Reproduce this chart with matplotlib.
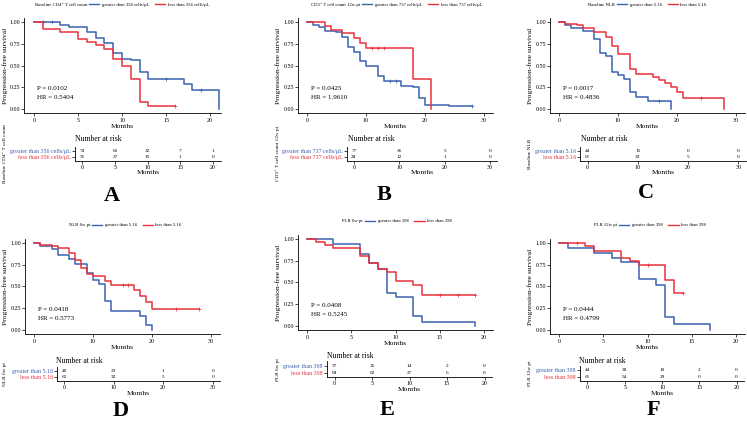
import numpy as np
import matplotlib.pyplot as plt
from matplotlib.lines import Line2D

W, H = 747, 421
BLUE = '#3A62B0'
RED = '#E8323C'
plt.rcParams['font.family'] = ['Liberation Serif', 'DejaVu Serif']

# ---- data (time in months, survival prob) ----
# A: baseline CD4+ T cell count
a_hi_t = [0, 3, 4, 6, 7, 8, 9, 10, 11, 12, 13, 17, 18, 21]
a_hi_s = [1, .97, .94, .88, .82, .76, .64, .58, .56, .42, .35, .29, .22, 0]
a_hi_cens = [1, 2, 15, 19]
a_lo_t = [0, 1, 3, 5, 6, 7, 8, 9, 10, 11, 12, 13, 16]
a_lo_s = [1, .92, .88, .80, .77, .73, .69, .58, .49, .35, .08, .04, .04]
a_lo_cens = [16]
a_risk_hi = [74, 66, 32, 7, 1]
a_risk_lo = [31, 27, 15, 1, 0]

# B: CD3+ T cell count 12w pt
b_hi_t = [0, 1, 2, 3, 5, 6, 7, 8, 9, 10, 12, 13, 16, 18, 19, 20, 24, 28]
b_hi_s = [1, .96, .94, .90, .88, .83, .71, .66, .55, .49, .38, .32, .27, .25, .13, .05, .03, .03]
b_hi_cens = [14, 15, 28]
b_lo_t = [0, 3, 4, 6, 8, 9, 10, 18, 21]
b_lo_s = [1, .95, .91, .87, .82, .76, .70, .35, 0]
b_lo_cens = [11, 12, 13]
b_risk_hi = [77, 36, 5, 0]
b_risk_lo = [28, 12, 1, 0]

# C: baseline NLR
c_hi_t = [0, 1, 2, 4, 6, 7, 8, 9, 10, 11, 12, 13, 15, 19]
c_hi_s = [1, .97, .93, .90, .80, .64, .61, .43, .39, .35, .19, .14, .09, 0]
c_hi_cens = [17]
c_lo_t = [0, 1, 3, 4, 6, 8, 9, 10, 12, 13, 16, 17, 18, 19, 20, 21, 28]
c_lo_s = [1, .98, .96, .93, .88, .83, .72, .63, .46, .40, .37, .33, .30, .25, .20, .13, 0]
c_lo_cens = [24]
c_risk_hi = [44, 15, 0, 0]
c_risk_lo = [61, 33, 5, 0]

# D: NLR 6w pt
d_hi_t = [0, 1, 3, 4, 6, 7, 9, 10, 11, 12, 13, 18, 19, 20]
d_hi_s = [1, .97, .93, .86, .82, .76, .65, .57, .53, .33, .22, .16, .06, 0]
d_hi_cens = []
d_lo_t = [0, 1, 3, 4, 6, 7, 8, 9, 10, 12, 13, 17, 18, 19, 20, 28]
d_lo_s = [1, .98, .96, .94, .89, .80, .71, .64, .62, .56, .52, .46, .39, .32, .24, .24]
d_lo_cens = [15, 16, 24, 28]
d_risk_hi = [40, 23, 1, 0]
d_risk_lo = [65, 32, 5, 0]

# E: PLR 6w pt
e_hi_t = [0, 3, 6, 7, 8, 9, 10, 12, 13, 19]
e_hi_s = [1, .94, .83, .72, .66, .38, .33, .11, .05, 0]
e_hi_cens = []
e_lo_t = [0, 1, 2, 3, 6, 7, 8, 9, 10, 12, 13, 19]
e_lo_s = [1, .97, .93, .90, .81, .72, .66, .62, .52, .47, .36, .36]
e_lo_cens = [15, 17, 19]
e_risk_hi = [37, 35, 14, 2, 0]
e_risk_lo = [68, 62, 27, 6, 0]

# F: PLR 12w pt
f_hi_t = [0, 1, 4, 6, 7, 9, 11, 12, 13, 17]
f_hi_s = [1, .94, .89, .83, .78, .59, .52, .15, .07, 0]
f_hi_cens = []
f_lo_t = [0, 3, 4, 7, 8, 9, 12, 13, 14]
f_lo_s = [1, .96, .91, .83, .79, .75, .58, .43, .43]
f_lo_cens = [2, 10, 14]
f_risk_hi = [44, 39, 19, 2, 0]
f_risk_lo = [61, 54, 29, 0, 0]

titles = ['Baseline CD4\u207a T cell count', 'CD3\u207a T cell count 12w pt', 'Baseline NLR',
          'NLR 6w pt', 'PLR 6w pt', 'PLR 12w pt']
hi_labels = ['greater than 356 cells/\u03bcL', 'greater than 737 cells/\u03bcL', 'greater than 5.16',
             'greater than 5.16', 'greater than 398', 'greater than 398']
lo_labels = ['less than 356 cells/\u03bcL', 'less than 737 cells/\u03bcL', 'less than 5.16',
             'less than 5.16', 'less than 398', 'less than 398']
p_values = ['0.0102', '0.0425', '0.0017', '0.0418', '0.0408', '0.0444']
hr_values = ['0.5404', '1.9610', '0.4836', '0.5773', '0.5245', '0.4799']
letters = ['A', 'B', 'C', 'D', 'E', 'F']

curves = [
    (a_hi_t, a_hi_s, a_hi_cens, a_lo_t, a_lo_s, a_lo_cens, a_risk_hi, a_risk_lo),
    (b_hi_t, b_hi_s, b_hi_cens, b_lo_t, b_lo_s, b_lo_cens, b_risk_hi, b_risk_lo),
    (c_hi_t, c_hi_s, c_hi_cens, c_lo_t, c_lo_s, c_lo_cens, c_risk_hi, c_risk_lo),
    (d_hi_t, d_hi_s, d_hi_cens, d_lo_t, d_lo_s, d_lo_cens, d_risk_hi, d_risk_lo),
    (e_hi_t, e_hi_s, e_hi_cens, e_lo_t, e_lo_s, e_lo_cens, e_risk_hi, e_risk_lo),
    (f_hi_t, f_hi_s, f_hi_cens, f_lo_t, f_lo_s, f_lo_cens, f_risk_hi, f_risk_lo),
]

# ---- layout in pixels ----
# main axes (left, top, right, bottom), xlim, tick step
main_box = [(24, 17.6, 221, 113.4), (298, 17.6, 493, 113.4), (550, 17.6, 745, 113.4),
            (25, 238.6, 220, 334.4), (298, 234.6, 493, 330.4), (550, 238.6, 745, 334.4)]
xlims = [(-1.14, 21.25), (-1.5, 31.5), (-1.5, 31.5), (-1.5, 31.5), (-1, 21), (-1, 21)]
tick_step = [5, 10, 10, 10, 5, 5]
xmax_tick = [20, 30, 30, 30, 20, 20]
table_box = [(75, 147, 221, 160.5), (347, 147, 497, 160.5), (580, 147, 746, 160.5),
             (57, 366.8, 220, 381.2), (327, 361, 492, 377.3), (580, 366, 744, 381.2)]
nar_pos = [(75, 139), (348, 139), (581, 139), (56, 360.7), (327, 356), (579, 360.7)]
legend_y = [5, 5, 5, 225, 221, 225]
legend_title_right = [87, 360, 615, 90, 363, 617]
ylabel_x = [5, 278, 530, 5, 278, 530]
letter_pos = [(112, 196), (384, 195), (646, 193), (121, 411), (387, 410), (653, 410)]

fig = plt.figure(figsize=(W / 100, H / 100), dpi=100)


def px_axes(box):
    l, t, r, b = box
    return fig.add_axes([l / W, 1 - b / H, (r - l) / W, (b - t) / H])


def surv_at(t, s, x):
    i = np.searchsorted(t, x, side='right') - 1
    return s[i]


def style(ax):
    for side in ['top', 'right']:
        ax.spines[side].set_visible(False)
    for side in ['left', 'bottom']:
        ax.spines[side].set_linewidth(0.6)
    ax.tick_params(length=2, width=0.5, labelsize=4.3, pad=1)


for k in range(6):
    hi_t, hi_s, hi_c, lo_t, lo_s, lo_c, r_hi, r_lo = curves[k]
    ax = px_axes(main_box[k])
    style(ax)
    for t, s, c, col in [(hi_t, hi_s, hi_c, BLUE), (lo_t, lo_s, lo_c, RED)]:
        ax.step(t, s, where='post', color=col, lw=1.1)
        cy = [surv_at(t, s, x) for x in c]
        ax.plot(c, cy, '+', color=col, ms=3, mew=0.5)
    ax.set_xlim(*xlims[k])
    ax.set_ylim(-0.05, 1.05)
    ticks = np.arange(0, xmax_tick[k] + 1, tick_step[k])
    ax.set_xticks(ticks)
    ax.set_yticks([0, 0.25, 0.5, 0.75, 1.0])
    ax.set_yticklabels(['0.00', '0.25', '0.50', '0.75', '1.00'])
    ax.set_xlabel('Months', fontsize=5.4)
    ax.xaxis.label.set_va('center')
    hpx = main_box[k][3] - main_box[k][1]
    ax.xaxis.set_label_coords(0.5, -13 / hpx)
    ax.set_ylabel('Progression-free survival', fontsize=5.4)
    ax.yaxis.label.set_va('center')
    ax.yaxis.set_label_coords(ylabel_x[k] / W, 1 - (main_box[k][1] + main_box[k][3]) / 2 / H,
                              transform=fig.transFigure)
    ax.text(0.066, 0.265, 'P = ' + p_values[k], transform=ax.transAxes, fontsize=5, va='center')
    ax.text(0.066, 0.171, 'HR = ' + hr_values[k], transform=ax.transAxes, fontsize=5, va='center')

    # legend
    fig.text(legend_title_right[k] / W, 1 - legend_y[k] / H, titles[k], fontsize=3.4,
             ha='right', va='center')
    handles = [Line2D([], [], color=BLUE, lw=1.0, label=hi_labels[k]),
               Line2D([], [], color=RED, lw=1.0, label=lo_labels[k])]
    fig.legend(handles=handles, loc='center left', ncol=2, frameon=False, fontsize=3.4,
               bbox_to_anchor=((legend_title_right[k] + 2) / W, 1 - legend_y[k] / H),
               borderpad=0, borderaxespad=0, handlelength=2.2, handletextpad=0.5,
               columnspacing=1.2)

    # risk table
    tb = px_axes(table_box[k])
    style(tb)
    tb.set_xlim(*xlims[k])
    tb.set_ylim(0.3, 2.7)
    tb.set_xticks(ticks)
    for x, n in zip(ticks, r_hi):
        tb.text(x, 2, str(n), ha='center', va='center', fontsize=3.8)
    for x, n in zip(ticks, r_lo):
        tb.text(x, 1, str(n), ha='center', va='center', fontsize=3.8)
    tb.set_yticks([2, 1])
    tb.set_yticklabels([hi_labels[k], lo_labels[k]])
    for lab, col in zip(tb.get_yticklabels(), [BLUE, RED]):
        lab.set_color(col)
    tb.set_xlabel('Months', fontsize=5.4)
    tb.xaxis.label.set_va('center')
    thpx = table_box[k][3] - table_box[k][1]
    tb.xaxis.set_label_coords(0.5, -12.5 / thpx)
    tb.set_ylabel(titles[k], fontsize=3.8)
    tb.yaxis.label.set_va('center')
    tb.yaxis.set_label_coords(ylabel_x[k] / W, 1 - (table_box[k][1] + table_box[k][3]) / 2 / H,
                              transform=fig.transFigure)
    fig.text(nar_pos[k][0] / W, 1 - nar_pos[k][1] / H, 'Number at risk', fontsize=5.6,
             ha='left', va='center')

    fig.text(letter_pos[k][0] / W, 1 - letter_pos[k][1] / H, letters[k], fontsize=16,
             fontweight='bold', ha='center', va='center')

fig.savefig('out.png', dpi=100)
